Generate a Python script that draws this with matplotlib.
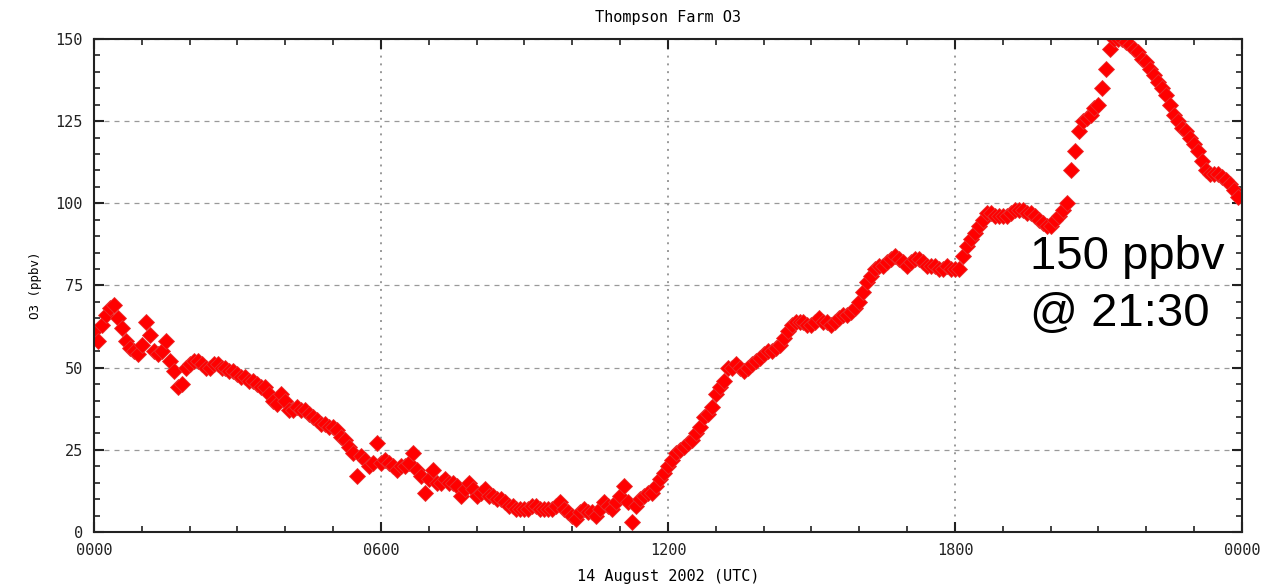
import numpy as np
import matplotlib
matplotlib.use("Agg")
import matplotlib.pyplot as plt
from matplotlib.ticker import MultipleLocator

# O3 (ppbv) every 5 minutes, one row per hour of 14 Aug 2002 (UTC)
o3_h00 = [61, 58, 63, 66, 68, 69, 65, 62, 58, 56, 55, 54]
o3_h01 = [57, 64, 60, 55, 54, 55, 58, 52, 49, 44, 45, 50]
o3_h02 = [51, 52, 52, 51, 50, 50, 51, 51, 50, 50, 49, 49]
o3_h03 = [48, 47, 47, 46, 46, 45, 44, 44, 42, 40, 39, 42]
o3_h04 = [40, 37, 37, 38, 37, 37, 36, 35, 34, 33, 33, 32]
o3_h05 = [32, 31, 29, 28, 26, 24, 17, 23, 22, 20, 21, 27]
o3_h06 = [21, 22, 21, 20, 19, 20, 20, 21, 24, 19, 17, 12]
o3_h07 = [16, 19, 15, 15, 16, 15, 15, 14, 11, 13, 15, 13]
o3_h08 = [11, 12, 13, 11, 11, 10, 10, 9, 8, 8, 7, 7]
o3_h09 = [7, 7, 8, 8, 7, 7, 7, 7, 8, 9, 7, 6]
o3_h10 = [5, 4, 6, 7, 6, 6, 5, 7, 9, 8, 7, 9]
o3_h11 = [11, 14, 9, 3, 8, 10, 11, 12, 12, 14, 16, 18]
o3_h12 = [20, 22, 24, 25, 26, 27, 28, 30, 32, 35, 36, 38]
o3_h13 = [42, 44, 46, 50, 50, 51, 50, 49, 50, 51, 52, 53]
o3_h14 = [54, 55, 55, 56, 57, 59, 61, 63, 64, 64, 64, 63]
o3_h15 = [63, 64, 65, 64, 64, 63, 64, 65, 66, 66, 67, 68]
o3_h16 = [70, 73, 76, 78, 80, 81, 81, 82, 83, 84, 83, 82]
o3_h17 = [81, 82, 83, 83, 82, 81, 81, 81, 80, 80, 81, 80]
o3_h18 = [80, 80, 84, 87, 89, 91, 93, 95, 97, 97, 96, 96]
o3_h19 = [96, 96, 97, 98, 98, 98, 97, 97, 96, 95, 94, 93]
o3_h20 = [93, 95, 96, 98, 100, 110, 116, 122, 125, 126, 127, 129]
o3_h21 = [130, 135, 141, 147, 150, 150, 150, 149, 148, 147, 146, 144]
o3_h22 = [143, 141, 139, 137, 135, 133, 130, 127, 125, 123, 122, 120]
o3_h23 = [118, 116, 113, 110, 109, 109, 109, 108, 107, 106, 104, 102]

hourly = [o3_h00, o3_h01, o3_h02, o3_h03, o3_h04, o3_h05, o3_h06, o3_h07,
          o3_h08, o3_h09, o3_h10, o3_h11, o3_h12, o3_h13, o3_h14, o3_h15,
          o3_h16, o3_h17, o3_h18, o3_h19, o3_h20, o3_h21, o3_h22, o3_h23]
o3 = np.concatenate(hourly)
hours = np.arange(len(o3)) * 5 / 60.0

xtick_pos = [0, 6, 12, 18, 24]
xtick_labels = ["0000", "0600", "1200", "1800", "0000"]

mono = "DejaVu Sans Mono"

fig = plt.figure(figsize=(12.8, 5.87), dpi=100)
ax = fig.add_axes([0.0734, 0.0937, 0.8969, 0.84])

ax.plot(hours, o3, linestyle="none", marker="D", markersize=8.5,
        color="#ff0000", markeredgecolor="#e83030", markeredgewidth=0.6)

ax.set_xlim(0, 24)
ax.set_ylim(0, 150)
ax.set_xticks(xtick_pos)
ax.set_xticklabels(xtick_labels)
ax.set_yticks([0, 25, 50, 75, 100, 125, 150])
ax.xaxis.set_minor_locator(MultipleLocator(1))
ax.yaxis.set_minor_locator(MultipleLocator(5))
ax.tick_params(which="both", direction="in", top=True, right=True,
               colors="#222222", labelcolor="#222222")
ax.tick_params(which="major", length=7, width=1.5, labelsize=11, pad=8)
ax.tick_params(which="minor", length=4, width=1.2)
for lab in ax.get_xticklabels() + ax.get_yticklabels():
    lab.set_family(mono)

ax.yaxis.grid(True, linestyle=(0, (4, 4)), color="#999999", linewidth=0.9)
ax.xaxis.grid(True, linestyle=(0, (1, 3)), color="#999999", linewidth=1.4)
for s in ax.spines.values():
    s.set_linewidth(1.5)
    s.set_color("#222222")

ax.set_title("Thompson Farm O3", family=mono, fontsize=11, pad=12)
ax.set_xlabel("14 August 2002 (UTC)", family=mono, fontsize=11, labelpad=8)
ax.set_ylabel("O3 (ppbv)", family=mono, fontsize=9, labelpad=10)

ax.text(0.8153, 0.50, "150 ppbv\n@ 21:30", transform=ax.transAxes,
        family="Liberation Sans", fontsize=34, ha="left", va="center",
        multialignment="left", linespacing=1.38, color="black")

fig.savefig("out.png", dpi=100)
